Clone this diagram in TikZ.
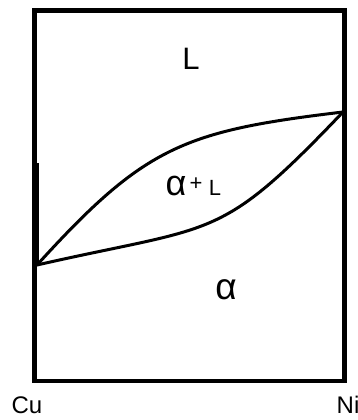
\documentclass[tikz,border=0pt]{standalone}
\usepackage{fontspec}
\setmainfont{Liberation Sans}
\begin{document}
\begin{tikzpicture}[x=1pt,y=-1pt,
  frame/.style={line width=4.5pt},
  phase/.style={line width=3pt,line cap=round,line join=round},
  lbl/.style={inner sep=0pt,anchor=base}]
\useasboundingbox (0,0) rectangle (358,420);
\coordinate (tl) at (34.5,10.5);
\coordinate (br) at (344.5,381);
\coordinate (cu) at (37,265);
\coordinate (ni) at (343,112);
\draw[frame] (tl) rectangle (br);
\coordinate (thA) at (37.5,163);
\coordinate (thB) at (37.5,265);
\draw[line width=2pt] (thA) -- (thB);
% liquidus
\draw[phase] (cu) .. controls (145,146) and (184,131) .. (ni);
% solidus
\draw[phase] (cu) .. controls (217,224) and (218,243) .. (ni);
\node[lbl,font=\fontsize{31}{31}\selectfont] (L) at (191,70) {L};
\node[lbl,font=\fontsize{36}{36}\selectfont] (a2) at (176,195) {α};
\node[lbl,font=\fontsize{22}{22}\selectfont] (plus) at (196,190.5) {+};
\node[lbl,font=\fontsize{22}{22}\selectfont] (L2) at (215,195) {L};
\node[lbl,font=\fontsize{37}{37}\selectfont] (a) at (226,299) {α};
\node[lbl,font=\fontsize{24}{24}\selectfont] (Cu) at (27,413) {Cu};
\node[lbl,font=\fontsize{24}{24}\selectfont] (Ni) at (348,413) {Ni};
\end{tikzpicture}
\end{document}
